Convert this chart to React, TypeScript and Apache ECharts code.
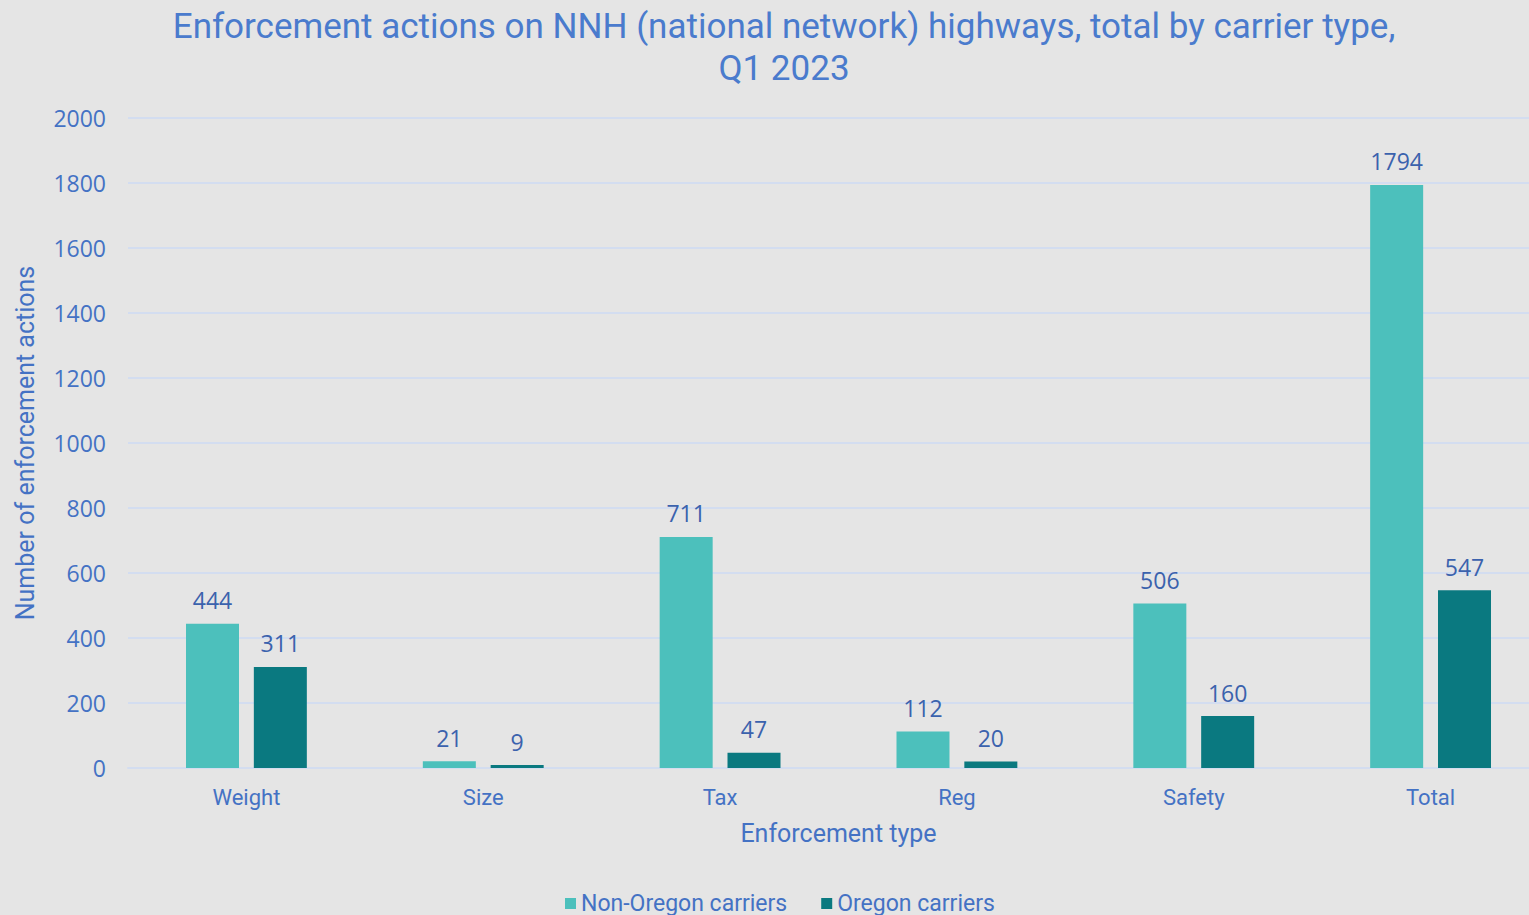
import React, { useEffect, useRef } from "react";
import * as echarts from "echarts";

const categories = ["Weight", "Size", "Tax", "Reg", "Safety", "Total"];
const nonOregon = [444, 21, 711, 112, 506, 1794];
const oregon = [311, 9, 47, 20, 160, 547];
const seriesNames = ["Non-Oregon carriers", "Oregon carriers"];

const TITLE_FONT = "Roboto, 'Noto Sans', sans-serif";
const LABEL_FONT = "'Open Sans', 'Noto Sans', sans-serif";

export default function App() {
  const ref = useRef<HTMLDivElement>(null);
  useEffect(() => {
    document.body.style.margin = "0";
    const chart = echarts.init(ref.current!, null, { renderer: "svg" });
    chart.setOption({
      animation: false,
      backgroundColor: "#E5E5E5",
      title: {
        text: "Enforcement actions on NNH (national network) highways, total by carrier type,\nQ1 2023",
        left: 779,
        textAlign: "center",
        top: 0,
        textStyle: {
          color: "#4A7BCD",
          fontFamily: TITLE_FONT,
          fontSize: 35,
          fontWeight: "normal",
          lineHeight: 42,
        },
      },
      legend: {
        data: seriesNames,
        bottom: -5,
        left: 560,
        itemWidth: 11,
        itemHeight: 11,
        itemGap: 34,
        icon: "rect",
        textStyle: { color: "#4472C4", fontFamily: TITLE_FONT, fontSize: 23 },
      },
      grid: {
        left: 128,
        top: 118,
        width: 1421,
        height: 650,
        containLabel: false,
        outerBoundsMode: "none",
      },
      xAxis: {
        type: "category",
        data: categories,
        name: "Enforcement type",
        nameLocation: "middle",
        nameGap: 53,
        nameTextStyle: { color: "#4472C4", fontFamily: TITLE_FONT, fontSize: 25 },
        axisLine: { lineStyle: { color: "#D3DDF0", width: 2 } },
        axisTick: { show: false },
        axisLabel: { color: "#4472C4", fontFamily: TITLE_FONT, fontSize: 22, margin: 18 },
      },
      yAxis: {
        type: "value",
        min: 0,
        max: 2000,
        interval: 200,
        name: "Number of enforcement actions",
        nameLocation: "middle",
        nameGap: 90,
        nameTextStyle: { color: "#4472C4", fontFamily: TITLE_FONT, fontSize: 25 },
        axisLine: { show: false },
        axisTick: { show: false },
        axisLabel: {
          color: "#4472C4",
          fontFamily: LABEL_FONT,
          fontSize: 23,
          margin: 22,
          formatter: (v: number) => String(v),
        },
        splitLine: { lineStyle: { color: "#D3DDF0", width: 2 } },
      },
      series: [
        {
          name: seriesNames[0],
          type: "bar",
          data: nonOregon,
          barWidth: 53,
          barGap: "28%",
          itemStyle: { color: "#4CC0BC" },
          label: {
            show: true,
            position: "top",
            distance: 12,
            color: "#3B62AD",
            fontFamily: LABEL_FONT,
            fontSize: 23,
          },
        },
        {
          name: seriesNames[1],
          type: "bar",
          data: oregon,
          barWidth: 53,
          itemStyle: { color: "#0A7980" },
          label: {
            show: true,
            position: "top",
            distance: 12,
            color: "#3B62AD",
            fontFamily: LABEL_FONT,
            fontSize: 23,
          },
        },
      ],
    });
    return () => chart.dispose();
  }, []);
  return <div ref={ref} style={{ position: "absolute", left: 0, top: 0, width: 1529, height: 915 }} />;
}
